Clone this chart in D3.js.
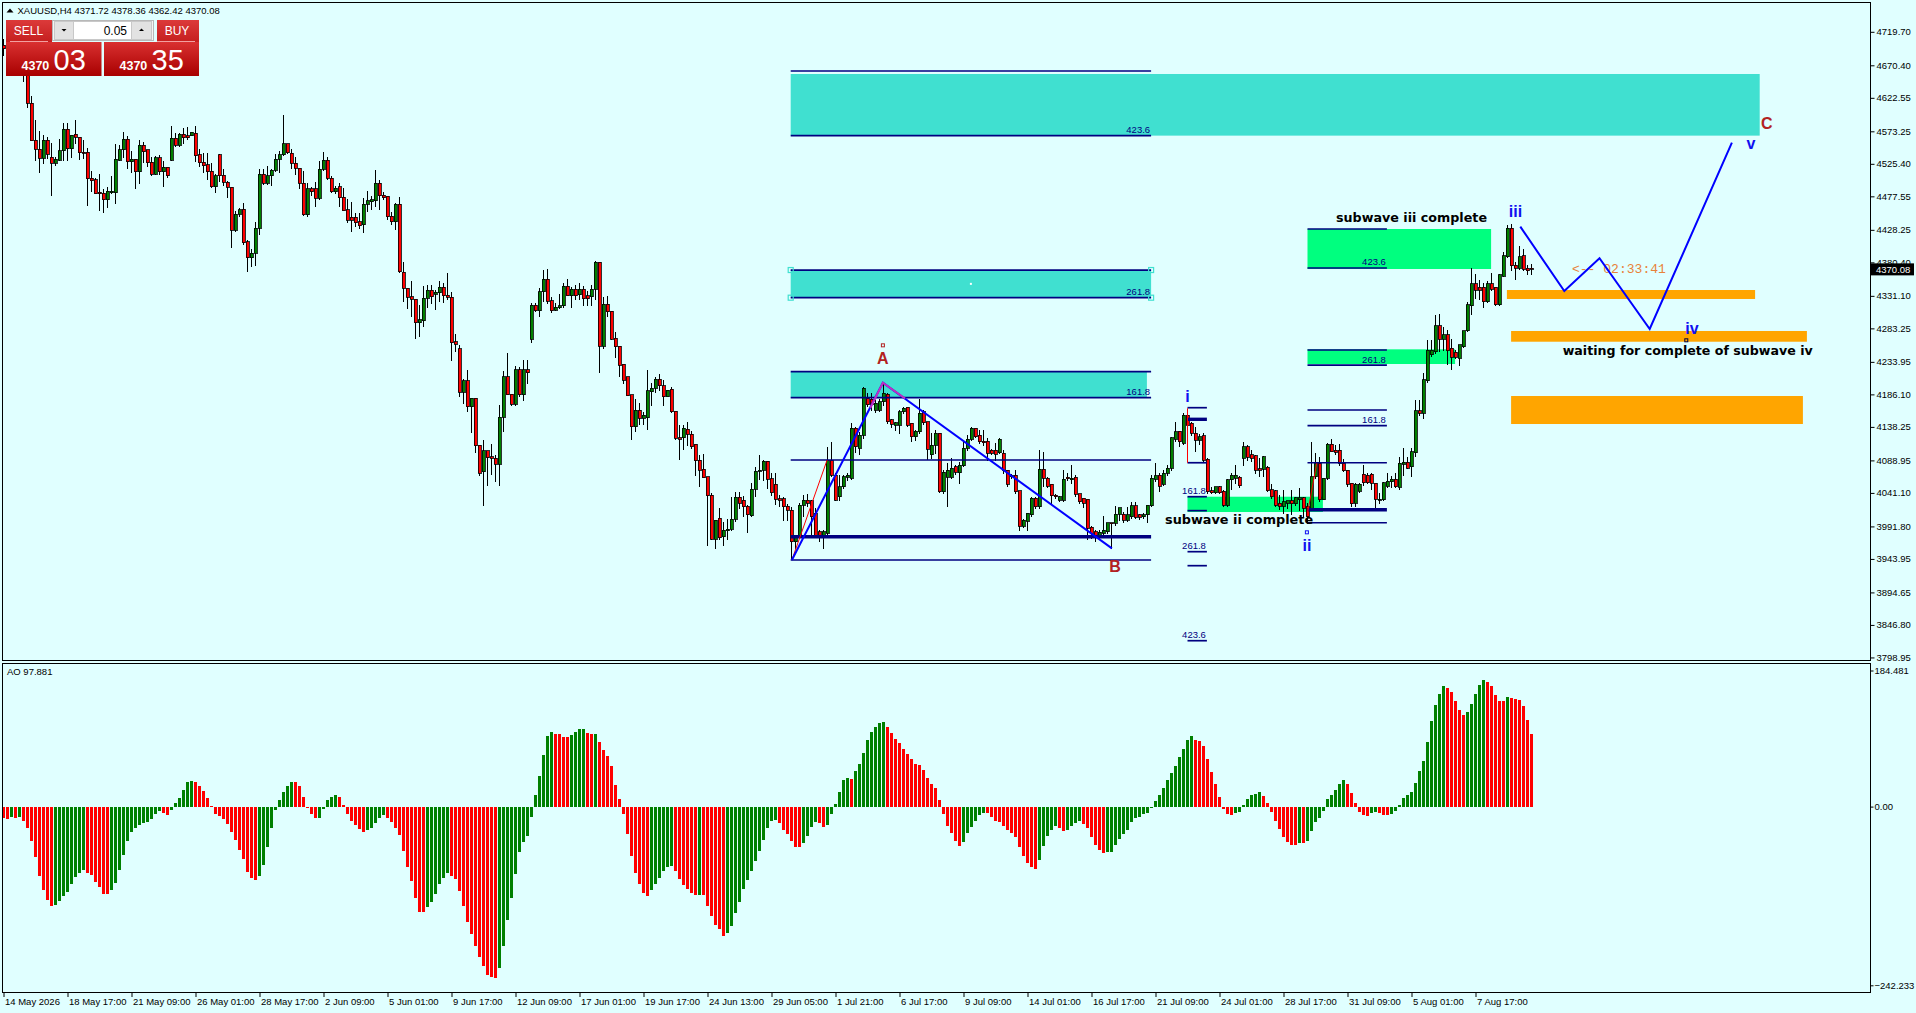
<!DOCTYPE html>
<html>
<head>
<meta charset="utf-8">
<script src="https://cdn.jsdelivr.net/npm/d3@7"></script>
<style>
  body { margin: 0; background: #E0FFFF; overflow: hidden; }
  text { font-family: "Liberation Sans", Arial, sans-serif; }
</style>
</head>
<body>
<svg id="chart" width="1916" height="1013"></svg>
<script>
// ---- data ----
const timeLabels = ['14 May 2026', '18 May 17:00', '21 May 09:00', '26 May 01:00', '28 May 17:00',
  '2 Jun 09:00', '5 Jun 01:00', '9 Jun 17:00', '12 Jun 09:00', '17 Jun 01:00', '19 Jun 17:00',
  '24 Jun 13:00', '29 Jun 05:00', '1 Jul 21:00', '6 Jul 17:00', '9 Jul 09:00', '14 Jul 01:00',
  '16 Jul 17:00', '21 Jul 09:00', '24 Jul 01:00', '28 Jul 17:00', '31 Jul 09:00', '5 Aug 01:00', '7 Aug 17:00']
const barsPerLabel = 16

const priceTicks = [4719.70, 4670.40, 4622.55, 4573.25, 4525.40, 4477.55, 4428.25, 4380.40, 4331.10,
  4283.25, 4233.95, 4186.10, 4138.25, 4088.95, 4041.10, 3991.80, 3943.95, 3894.65, 3846.80, 3798.95]
const aoTicks = [184.481, 0, -242.233]

// H4 candles: [open, high, low, close]
const candles = [
[4700,4709,4685,4695],[4695,4705,4684,4688],[4688,4700,4678,4692],[4692,4698,4676,4680],[4680,4690,4668,4672],
[4672,4685,4646,4660],[4660,4668,4608.5,4614.4],[4614.4,4625,4559.5,4559.5],[4560,4590,4531,4547],[4547,4574,4512,4533.5],
[4533.5,4568,4526,4560],[4560,4565.4,4533.5,4539.4],[4535,4555.6,4479.5,4526],[4526,4535,4522.7,4532],[4531,4561.5,4530,4544.3],
[4544.3,4585,4530,4576],[4576,4585,4531,4547.7],[4547.7,4567.3,4535,4567.3],[4568.8,4590,4554.6,4564.4],[4564.4,4564.4,4532,4541.8],
[4542.8,4560.5,4533.5,4541.8],[4542.8,4548,4464.8,4503.6],[4504,4515,4484.4,4500.6],[4501.6,4504.5,4481.5,4481.5],[4483.5,4510,4456,4481.5],
[4482,4488.4,4453.5,4472.7],[4472.7,4491.8,4461,4485],[4483,4507.5,4482,4485],[4483,4554.6,4466.8,4532],[4531,4552.6,4530,4545.8],
[4545.8,4572.2,4534.5,4561.5],[4561.5,4566.4,4517.8,4528.6],[4528.6,4544.3,4512.4,4532.5],[4532.5,4532.5,4488.9,4513.9],[4513.9,4560.5,4496.2,4553],
[4553,4557.5,4527,4543.3],[4545.8,4545.8,4521.2,4527],[4528,4535,4508,4510.4],[4510.4,4537,4510.4,4534],[4534,4538.4,4510,4513.9],
[4513.9,4529,4491.8,4520.2],[4520.2,4520.2,4505,4508],[4531,4581,4531,4563],[4563,4570.3,4551.6,4553],[4553,4571.3,4550.6,4568.8],
[4568.8,4577.6,4554.6,4563.9],[4566.4,4579,4561.5,4563.9],[4566.4,4572.2,4566.4,4572.2],[4570.3,4581,4528.6,4537.4],[4538.4,4547.2,4522.2,4527],
[4528,4540.8,4512.9,4522.7],[4523.7,4540.8,4501.6,4513.9],[4514.8,4526.6,4490.3,4491.8],[4491.8,4510.4,4483,4508],[4538.4,4539.9,4499.1,4507.5],
[4508.5,4517.8,4493.3,4498.2],[4498.2,4499.6,4476,4490.8],[4490.8,4490.8,4402,4427.5],[4427.5,4456,4425.5,4451],[4451,4461,4448.6,4457.5],
[4458.4,4467.3,4407.4,4409.4],[4410.4,4413.3,4366.7,4387.3],[4387.3,4400,4374,4393.7],[4393.7,4439.8,4375.5,4430.5],[4430.5,4517.3,4421.6,4510],
[4510,4517.8,4495.2,4496.7],[4496.7,4522.2,4495.2,4507.5],[4507.5,4517.3,4494.2,4516.3],[4516.3,4539.9,4514.4,4532.5],[4532.5,4544.3,4512.4,4538.4],
[4538.4,4597.3,4537,4554.6],[4554.6,4554.6,4540.8,4541.8],[4540.8,4547.2,4517.8,4526],[4526,4535,4510,4518.8],[4518.8,4518.8,4488.9,4496.7],
[4496.7,4514.8,4449.1,4450.6],[4450.6,4496.7,4447.6,4488.4],[4488.4,4491.8,4479,4484.4],[4488.4,4498.7,4463.3,4474.6],[4474.6,4530,4472.2,4517.3],
[4517.3,4542.3,4516.3,4531],[4531,4535,4503,4504],[4504,4507.5,4483,4484.4],[4484.4,4493.3,4482,4489.3],[4491.8,4496.7,4462.3,4475.6],
[4476,4489.8,4456.5,4456.5],[4457.5,4473.6,4438.8,4442.7],[4447,4468.7,4426.5,4442.7],[4447,4453.5,4433.9,4438.8],[4439.8,4452.5,4429.5,4434.4],
[4435.4,4475.6,4424,4465.8],[4465.8,4485.4,4455,4470.7],[4469.7,4478,4458.4,4472.2],[4471.2,4516.3,4463.3,4496.7],[4496.7,4501.6,4458.4,4478.5],
[4479.5,4484.4,4472.2,4475.6],[4478,4478,4444.2,4447.6],[4448.6,4455,4436.8,4440.3],[4440.3,4467.3,4429,4465.8],[4465.8,4477,4365,4366.7],
[4365.7,4380.4,4322.5,4342.2],[4342.2,4342.2,4312.7,4328.9],[4329.9,4353.4,4300.5,4326],[4326,4326,4268.1,4291.6],[4291.6,4317.6,4272,4295.6],
[4294.6,4346.1,4286.7,4327.4],[4327.4,4347,4314.2,4339.7],[4339.7,4347,4320.1,4329.9],[4333.3,4339.7,4311.7,4336.3],[4335.8,4352.5,4323.5,4343.6],
[4343.6,4350.5,4321.1,4330.9],[4331.9,4364.7,4325,4328.9],[4328.9,4336.3,4235.7,4262.2],[4263.2,4274.5,4248.9,4260.2],[4252.9,4258.8,4182.7,4189.1],
[4189.1,4208.2,4172.9,4205.8],[4205.8,4222,4160.6,4168],[4168,4180.3,4129.7,4180.3],[4180.3,4180.3,4100.8,4110.6],[4111.6,4111.6,4066.5,4069.9],
[4072.3,4118.9,4023.3,4102.8],[4102.8,4102.8,4051.7,4093],[4094.4,4113,4068.4,4092],[4092,4096.9,4057.6,4083.1],[4083.1,4170.5,4051.7,4152.3],
[4152.3,4220.5,4131.2,4212.2],[4212.2,4246.5,4185.2,4185.2],[4186.1,4186.1,4169.5,4171.9],[4171.9,4227.9,4169.5,4222],[4222,4226.9,4183.7,4185.2],
[4185.2,4236.7,4176.8,4222],[4222,4236.7,4201.4,4218],[4267.6,4321.1,4262.2,4317.6],[4317.6,4320.1,4307.8,4309.3],[4309.3,4342.2,4300.5,4337.3],
[4337.3,4369.2,4323.5,4355.4],[4355.4,4370.1,4320.1,4323.5],[4324,4328.9,4306.3,4309.3],[4309.8,4320.1,4309.3,4314.2],[4313.7,4333.8,4312.7,4316.2],
[4316.2,4349.5,4314.2,4345.6],[4345.6,4355.9,4331.4,4331.4],[4331.4,4344.6,4313.7,4340.7],[4340.7,4347,4326,4331.4],[4332.4,4349.5,4326,4340.7],
[4340.7,4345.6,4317.6,4326.5],[4330.9,4338.7,4317.6,4326.5],[4329.9,4347,4317.6,4340.7],[4340.7,4382.9,4326,4380.4],[4380.4,4380.4,4218,4257.3],
[4257.3,4329.9,4253.9,4319.1],[4319.1,4330.9,4300.5,4307.8],[4308.8,4308.8,4267.6,4267.6],[4268.6,4277.4,4240.6,4256.3],[4257.3,4257.3,4213.1,4229.3],
[4230.3,4230.3,4201.4,4207.2],[4212.2,4212.2,4184.2,4184.2],[4185.2,4185.2,4120.4,4138.5],[4138.5,4179.3,4132.2,4163.1],[4163.1,4172.9,4142,4150.8],
[4150.8,4160.6,4142,4155.7],[4151.8,4222,4135.1,4191.1],[4190.1,4202.3,4169.5,4195],[4195,4212.2,4188.6,4208.2],[4208.2,4215.6,4192.5,4198.9],
[4198.9,4207.2,4169.5,4182.7],[4182.7,4192.5,4182.7,4192.5],[4193.5,4197.4,4159.6,4160.6],[4161.6,4161.6,4120.4,4121.4],[4122.4,4141,4090.5,4120.4],
[4122.4,4141,4105.2,4136.1],[4134.6,4145,4111.6,4127.3],[4127.3,4132.2,4106.7,4109.1],[4113,4113,4067.4,4088.5],[4089.5,4096.9,4050.3,4074.8],
[4075.8,4098.3,4063.5,4063.5],[4065,4065,3963.4,4037],[4038,4040.4,3971.8,3972.7],[3972.7,4001.2,3959.5,4001.2],[4003.6,4019.4,3972.7,3975.2],
[3976.7,3998.7,3963.4,3986.5],[3985.5,4002.2,3971.8,3987.5],[3987.5,4034.5,3986.5,4002.2],[4002.2,4042.9,3998.7,4034.5],[4034.5,4042.9,4018.4,4025.7],
[4030.6,4037,4007.1,4020.8],[4021.8,4023.3,3982.6,4008.6],[4007.6,4055.2,4006.1,4046.3],[4046.3,4079.7,4035.5,4073.3],[4073.3,4096.9,4060.1,4074.8],
[4074.8,4089.5,4059,4088],[4088,4088,4047.8,4061.1],[4062,4069.9,4038,4041.4],[4053.7,4069.9,4024.2,4031.6],[4032.6,4037.5,4021.8,4030.6],
[4032.6,4035.5,4001.2,4020.8],[4021.8,4024.2,4001.2,4015.9],[4015.9,4020.8,3943,3969.3],[3969.3,3979.1,3960,3975.7],[3976.7,4026,3974,4023.3],
[4023.3,4038.0,4006.1,4030.6],[4030.6,4039.5,4020.8,4025.7],[4029.6,4030.6,3979.1,4006.1],[4011.0,4018.4,3976.7,3979.1],[3984.0,3986.5,3969.3,3979.1],
[3979.1,3986.5,3959.5,3984.0],[3981.6,4109.1,3979.1,4089.5],[4089.5,4116.5,4065.0,4067.4],[4067.4,4069.9,4030.6,4030.6],[4035.5,4067.4,4030.6,4050.3],
[4050.3,4067.4,4048.0,4065.0],[4064.0,4069.9,4060.0,4067.4],[4062.5,4143.5,4060.1,4136.1],[4136.1,4138.5,4101.0,4109.1],[4106.7,4131.2,4096.9,4126.3],
[4126.3,4197.4,4121.4,4195.0],[4180.3,4187.6,4168.0,4170.5],[4178.8,4187.6,4163.1,4170.5],[4163.1,4178.0,4160.0,4172.9],[4163.1,4180.0,4160.6,4175.4],
[4175.4,4203.3,4170.0,4187.6],[4186.6,4187.6,4143.5,4146.0],[4148.4,4150.0,4138.0,4142.5],[4141.0,4146.0,4133.0,4144.5],[4141.0,4163.1,4128.8,4160.6],
[4160.6,4168.0,4158.0,4165.5],[4167.0,4168.0,4138.5,4141.0],[4143.5,4143.5,4116.5,4123.9],[4123.9,4133.7,4118.9,4132.2],[4131.2,4178.8,4128.8,4158.2],
[4160.6,4163.0,4142.0,4144.5],[4146.0,4146.0,4090.5,4105.7],[4096.9,4128.8,4092.0,4111.6],[4111.6,4133.7,4099.3,4128.8],[4128.8,4128.8,4042.0,4042.9],
[4042.9,4074.8,4040.4,4071.4],[4064.0,4084.6,4020.8,4074.8],[4064.0,4091.9,4062.5,4077.2],[4079.7,4082.0,4068.0,4071.4],[4070.9,4087.0,4055.2,4082.1],
[4081.2,4118.9,4079.7,4106.7],[4106.7,4126.3,4104.2,4119.9],[4119.9,4137.6,4118.9,4136.1],[4136.1,4137.0,4122.0,4123.9],[4126.3,4133.7,4114.0,4116.5],
[4117.4,4133.7,4111.0,4115.0],[4117.4,4121.4,4089.5,4099.3],[4104.2,4106.0,4097.0,4099.3],[4104.2,4114.0,4089.5,4098.3],[4100.3,4122.4,4099.3,4120.4],
[4099.3,4104.2,4069.9,4074.8],[4074.8,4074.8,4051.2,4053.7],[4065.0,4069.0,4063.0,4067.4],[4067.4,4074.8,4040.4,4042.9],[4044.4,4044.4,3986.5,3992.4],
[3992.4,4003.0,3990.0,4001.2],[3999.7,4011.0,3986.5,4011.0],[4008.6,4034.5,4006.1,4033.1],[4033.1,4035.0,4018.0,4020.8],[4020.8,4104.2,4018.4,4075.8],
[4075.8,4101.8,4050.3,4062.5],[4062.5,4064.0,4049.0,4051.2],[4053.7,4053.7,4025.7,4037.0],[4038.0,4040.0,4033.0,4035.5],[4030.6,4037.0,4028.0,4035.5],
[4030.6,4074.8,4028.2,4061.1],[4064.0,4069.9,4060.0,4061.6],[4060.1,4081.7,4055.2,4062.5],[4064.0,4067.4,4035.5,4039.0],[4039.5,4039.5,4025.7,4028.2],
[4033.1,4034.0,4020.0,4025.7],[4031.6,4031.6,3971.8,3989.0],[3990.4,3992.0,3974.2,3981.6],[3984.0,3986.5,3969.3,3979.1],[3979.1,3986.5,3974.2,3983.0],
[3981.6,4007.1,3979.0,3986.5],[3984.0,3997.3,3981.6,3997.3],[3997.3,3997.3,3959.5,3996.3],[3996.3,4021.8,3993.8,4010.0],[4010.0,4019.4,4001.2,4019.4],
[4010.0,4013.0,3998.0,4001.2],[4001.2,4020.8,3998.7,4008.6],[4006.1,4028.2,4003.6,4022.3],[4022.3,4028.2,4003.6,4005.1],[4008.6,4010.0,4002.0,4005.1],
[4006.1,4011.0,4003.0,4008.6],[4008.6,4023.3,3997.3,4023.3],[4022.3,4067.4,4020.8,4062.5],[4061.1,4084.6,4057.6,4066.0],[4067.4,4069.9,4042.9,4051.2],
[4053.7,4075.0,4052.0,4069.9],[4069.9,4082.1,4066.0,4077.2],[4077.2,4123.9,4074.8,4122.4],[4120.4,4145.9,4116.5,4131.2],[4132.2,4132.2,4109.1,4116.5],
[4114.0,4158.0,4112.0,4155.7],[4155.7,4163.1,4133.7,4141.0],[4143.5,4146.0,4125.0,4128.8],[4128.8,4138.5,4101.8,4118.9],[4118.9,4128.0,4112.0,4123.9],
[4124.9,4128.8,4087.1,4089.5],[4090.5,4092.0,4040.5,4042.9],[4044.4,4049.3,4040.5,4041.4],[4041.4,4050.3,4039.5,4050.3],[4050.3,4051.2,4040.5,4041.4],
[4043.9,4045.4,4020.8,4023.3],[4023.3,4061.1,4021.8,4060.1],[4060.1,4069.9,4045.4,4067.4],[4062.5,4082.1,4055.2,4067.4],[4064.0,4066.0,4049.3,4051.8],
[4092.0,4116.5,4082.1,4109.1],[4109.1,4111.6,4089.5,4093.5],[4096.9,4104.2,4087.0,4092.0],[4095.9,4096.9,4069.9,4074.8],[4076.3,4092.0,4065.0,4074.8],
[4075.8,4095.4,4065.0,4094.4],[4078.7,4080.7,4042.9,4044.4],[4045.4,4054.2,4033.1,4035.5],[4044.4,4045.4,4020.8,4023.3],[4025.7,4038.0,4016.0,4021.8],
[4021.8,4045.4,4011.0,4028.2],[4025.7,4029.2,4018.4,4029.2],[4029.2,4045.4,4008.6,4024.8],[4024.8,4035.0,4023.3,4034.1],[4030.7,4047.8,4015.9,4034.1],
[4034.1,4035.5,4006.1,4018.4],[4021.8,4025.7,3996.3,4006.1],[4018.4,4116.5,4015.9,4065.0],[4065.0,4099.3,4063.0,4084.6],[4084.6,4094.4,4028.2,4030.7],
[4030.7,4063.0,4030.7,4062.5],[4062.5,4114.0,4061.1,4112.6],[4112.6,4120.4,4101.8,4101.8],[4104.2,4111.6,4096.9,4100.8],[4104.2,4112.6,4082.1,4084.6],
[4084.6,4090.5,4072.4,4073.8],[4074.8,4074.8,4050.3,4054.2],[4055.2,4056.2,4021.8,4024.8],[4025.7,4056.2,4021.8,4054.2],[4043.9,4056.2,4041.4,4054.2],
[4068.9,4082.1,4052.7,4056.2],[4067.4,4069.9,4055.2,4056.2],[4068.9,4069.9,4045.4,4055.2],[4055.2,4056.2,4018.4,4031.6],[4030.7,4040.5,4025.7,4032.1],
[4030.7,4057.6,4029.7,4056.2],[4051.2,4069.9,4049.3,4058.6],[4057.6,4065.9,4049.3,4061.1],[4061.1,4070.9,4049.3,4050.3],[4049.3,4094.4,4045.4,4084.6],
[4083.6,4107.7,4067.4,4086.1],[4086.1,4094.4,4077.2,4077.2],[4079.7,4106.7,4065.0,4101.8],[4100.3,4177.8,4094.4,4162.1],[4162.1,4177.8,4154.3,4158.2],
[4158.2,4217.1,4150.9,4207.3],[4206.3,4266.2,4203.3,4251.4],[4244.1,4266.2,4241.6,4251.4],[4249.0,4302.9,4246.5,4286.8],[4286.8,4304.4,4249.0,4267.1],
[4267.1,4285.8,4251.4,4273.5],[4273.5,4280.9,4230.3,4250.5],[4253.9,4267.1,4223.0,4240.6],[4248.0,4251.4,4239.0,4240.6],[4239.2,4258.8,4229.3,4258.8],
[4256.3,4280.0,4255.3,4279.4],[4279.4,4322.6,4278.4,4317.7],[4316.7,4371.6,4303.0,4348.6],[4348.6,4363.3,4327.5,4339.7],[4343.7,4354.5,4326.0,4339.7],
[4343.7,4349.5,4314.2,4322.6],[4322.6,4353.5,4321.1,4348.6],[4348.6,4365.2,4339.7,4340.7],[4343.7,4343.7,4316.2,4317.7],[4317.7,4363.3,4316.2,4361.8],
[4360.3,4396.2,4359.4,4389.8],[4388.8,4435.4,4387.8,4430.5],[4430.5,4436.9,4367.7,4375.1],[4376.5,4381.4,4355.4,4371.6],[4371.6,4404.5,4369.2,4388.8],
[4389.8,4399.6,4368.2,4370.2],[4371.6,4376.5,4362.2,4368.2],[4371.72,4378.36,4362.42,4370.08]
]

// Awesome Oscillator, one value per candle
const aoValues = [
-14.9,-16.7,-13.6,-14.9,-13.6,-19.0,-28.5,-46.1,-67.8,-93.5,
-113.0,-126.5,-134.2,-133.8,-127.4,-120.7,-115.2,-104.8,-94.9,-89.9,
-85.4,-89.9,-92.6,-101.7,-108.5,-118.4,-118.6,-112.5,-103.0,-85.4,
-65.1,-46.1,-33.9,-28.5,-25.3,-22.6,-20.3,-16.3,-9.9,-5.9,
-8.1,-11.3,-4.1,5.0,12.2,22.6,33.9,35.2,33.4,28.5,
21.2,12.2,0.5,-9.9,-12.2,-16.7,-23.0,-33.9,-44.7,-58.7,
-70.9,-88.6,-96.3,-99.4,-94.0,-79.1,-54.7,-28.9,-4.1,9.0,
20.3,28.0,33.4,33.2,28.0,13.1,-1.4,-9.9,-15.4,-15.2,
-2.7,9.0,13.1,16.3,13.1,2.3,-9.9,-19.4,-24.9,-29.8,
-33.9,-31.6,-28.5,-21.7,-14.9,-11.3,-14.9,-20.3,-28.9,-38.0,
-59.7,-81.3,-100.8,-124.3,-142.3,-142.5,-135.6,-128.8,-117.9,-104.4,
-96.3,-89.9,-93.5,-98.5,-113.9,-134.2,-155.9,-173.1,-188.4,-203.4,
-216.0,-227.8,-230.5,-232.7,-218.3,-188.4,-153.2,-124.3,-90.8,-61.9,
-48.4,-39.3,-13.6,15.8,41.6,70.0,95.8,101.2,98.5,98.3,
94.9,94.7,97.2,101.7,105.3,105.5,99.9,98.5,98.7,87.7,
76.8,68.2,55.6,29.4,10.4,-9.5,-36.6,-66.9,-89.9,-104.8,
-117.1,-120.7,-113.0,-104.8,-96.3,-87.2,-81.3,-80.9,-87.2,-97.6,
-105.7,-111.2,-117.1,-119.8,-119.6,-119.9,-134.2,-148.2,-160.4,-165.9,
-174.9,-170.8,-161.3,-143.7,-128.8,-111.2,-99.4,-86.8,-73.2,-59.7,
-44.7,-28.5,-19.0,-18.1,-22.6,-31.6,-36.6,-46.1,-54.7,-54.9,
-49.3,-39.8,-27.6,-20.8,-22.1,-27.6,-24.9,-9.9,3.2,19.9,
35.7,38.4,37.5,48.4,57.8,72.8,90.4,101.2,108.0,113.4,
114.8,108.0,99.9,91.7,86.3,78.2,71.4,64.6,57.8,56.5,
49.7,38.9,30.7,25.3,9.0,-9.9,-26.2,-35.7,-46.5,-53.3,
-47.9,-35.7,-27.6,-19.4,-11.3,-8.6,-8.8,-14.0,-19.4,-20.8,
-26.2,-31.6,-35.7,-41.1,-54.7,-66.9,-76.4,-81.8,-84.5,-72.3,
-53.3,-39.8,-31.6,-26.2,-28.9,-33.0,-31.6,-26.2,-22.1,-19.4,
-23.5,-28.9,-41.1,-52.0,-58.7,-62.8,-61.5,-61.3,-52.0,-43.8,
-37.1,-31.6,-20.8,-15.4,-14.0,-9.9,-8.1,-1.4,7.7,15.8,
25.3,36.2,45.6,55.1,67.3,78.2,90.4,95.8,90.4,89.0,
82.2,64.6,47.0,30.7,13.1,-3.2,-9.9,-11.3,-8.1,-7.9,
2.3,10.4,15.8,17.2,19.9,14.5,5.0,-7.2,-19.4,-29.8,
-41.1,-47.9,-52.0,-52.2,-49.3,-49.5,-46.5,-33.0,-20.8,-15.4,
-5.9,10.4,15.8,22.6,30.7,36.2,30.7,18.5,5.0,-7.2,
-11.3,-12.7,-8.6,-7.2,-8.6,-11.3,-11.5,-9.9,-5.9,2.3,
11.7,15.8,19.9,32.1,48.4,61.9,87.7,116.1,137.8,152.7,
163.6,160.9,155.5,143.3,131.1,124.3,128.3,139.2,152.7,164.9,
171.7,169.0,163.6,151.4,143.3,143.1,148.7,147.3,146.4,144.6,
136.5,117.5,97.881
]

// drawn objects, in bar index / price units: [fromBar, toBar, topPrice, bottomPrice]
const cyanZones = [[196.8, 439.05, 4657.6, 4566.9], [196.8, 286.9, 4369.1, 4328.4], [196.8, 285.85, 4219.5, 4181.2]]
const greenZones = [[326, 371.9, 4429.5, 4370.6], [326, 362.9, 4252.4, 4230.8], [296, 329.85, 4035.5, 4013.0]]
const orangeZones = [[375.85, 437.9, 4339.7, 4326.5], [376.9, 450.85, 4279.4, 4263.6], [376.9, 449.85, 4183.7, 4142.5]]

// fibo expansion levels: [price, label, base]
const fibA = {from: 196.8, to: 286.9, levels: [[4662.0, ''], [4566.9, '423.6'], [4369.1, ''], [4328.4, '261.8'],
  [4219.5, ''], [4181.2, '161.8'], [4089.5, ''], [3976.6, '', 1], [3942.4, '']]}
const fibB = {from: 296, to: 300.85, levels: [[4166.5, ''], [4149.4, '', 1], [4085.5, ''], [4035.5, '161.8'],
  [4015.0, ''], [3954.6, '261.8'], [3934.0, ''], [3823.6, '423.6']]}
const fibC = {from: 326, to: 345.85, levels: [[4429.5, ''], [4372.1, '423.6'], [4251.4, ''], [4229.3, '261.8'],
  [4163.1, ''], [4140.0, '161.8'], [4085.5, ''], [4016.4, '', 1], [3997.2, '']]}

const abcPoints = [[197.1, 3942.4], [219.85, 4203.3], [277.1, 3959.5]]
const abcHighlight = [[216.7, 4166], [219.85, 4203.3], [225.4, 4180]]
const projection = [[379.2, 4432.9], [390.2, 4338.2], [399, 4386.4], [411.55, 4282.3], [432.1, 4556.5]]
const fibBaselines = [[[197.1, 3942.4], [205.9, 4089.5]], [[296, 4165.6], [296, 4085.5]], [[326, 4011.0], [328.3, 4084.7]]]

const waveLabels = [['A', 219.85, 4239.6, 'abc'], ['B', 277.9, 3932.5, 'abc'], ['C', 440.85, 4585.0, 'abc'],
  ['i', 296, 4182.7, 'sub'], ['ii', 325.85, 3964.4, 'sub'], ['iii', 378, 4454.9, 'sub'],
  ['iv', 422.1, 4283.3, 'sub'], ['v', 436.85, 4554.6, 'sub']]
const markers = [[219.85, 4258.3, 'abc'], [325.85, 3983.1, 'sub'], [420.7, 4265.7, 'dark']]
const notes = [['subwave iii complete', 352, 4446.7, 151], ['subwave ii complete', 308.9, 4002.3, 148],
  ['waiting for complete of subwave iv', 421.05, 4250.4, 250]]
const countdown = '<-- 02:33:41'
const symbolInfo = 'XAUUSD,H4  4371.72 4378.36 4362.42 4370.08'
const aoName = 'AO 97.881'

// ---- layout ----
const W = 1916, H = 1013
const plotRight = 1870
const mainTop = 2, mainBottom = 661, aoTop = 664, aoBottom = 993

let svg = d3.select('#chart')
let xScale = d3.scaleLinear().domain([0, 100]).range([3.5, 403.5])
let yPrice = d3.scaleLinear().domain([3798.95, 4719.70]).range([657.45, 31.8])
let yAO = d3.scaleLinear().domain([-242.233, 184.481]).range([985.3, 670.5])

svg.append('rect').attr('width', W).attr('height', H).attr('fill', '#E0FFFF')

let defs = svg.append('defs')
defs.append('clipPath').attr('id', 'clipMain').append('rect')
  .attr('x', mainTop).attr('y', mainTop).attr('width', plotRight - mainTop).attr('height', mainBottom - mainTop)
defs.append('clipPath').attr('id', 'clipAO').append('rect')
  .attr('x', 2).attr('y', aoTop).attr('width', plotRight - 2).attr('height', aoBottom - aoTop)

function grad(id, c1, c2) {
  let g = defs.append('linearGradient').attr('id', id).attr('x1', 0).attr('y1', 0).attr('x2', 0).attr('y2', 1)
  g.append('stop').attr('offset', '0%').attr('stop-color', c1)
  g.append('stop').attr('offset', '100%').attr('stop-color', c2)
}
grad('btnRed', '#DC3A3A', '#C51F1F')
grad('priceRed', '#D93030', '#A80000')

let main = svg.append('g').attr('clip-path', 'url(#clipMain)')

// zones behind the candles
function zones(data, color) {
  main.append('g').selectAll('rect').data(data).join('rect')
    .attr('x', d => xScale(d[0]))
    .attr('width', d => xScale(d[1]) - xScale(d[0]))
    .attr('y', d => yPrice(d[2]))
    .attr('height', d => yPrice(d[3]) - yPrice(d[2]))
    .attr('fill', color)
}
zones(cyanZones, '#40E0D0')
zones(greenZones, '#00FF7F')
zones(orangeZones, '#FFA500')

// candles
let cg = main.append('g').attr('shape-rendering', 'crispEdges')
cg.selectAll('line').data(candles).join('line')
  .attr('x1', (d, i) => xScale(i)).attr('x2', (d, i) => xScale(i))
  .attr('y1', d => yPrice(d[1])).attr('y2', d => yPrice(d[2]) + 0.5)
  .attr('stroke', '#000').attr('stroke-width', 1)
cg.selectAll('rect').data(candles).join('rect')
  .attr('x', (d, i) => xScale(i) - 1.5).attr('width', 3)
  .attr('y', d => yPrice(Math.max(d[0], d[3])))
  .attr('height', d => Math.max(1, Math.abs(yPrice(d[0]) - yPrice(d[3]))))
  .attr('fill', d => d[3] >= d[0] ? '#008000' : '#FF0000')
  .attr('stroke', '#000').attr('stroke-width', 0.8)

// fibo levels
function fibo(set) {
  let g = main.append('g')
  g.selectAll('line').data(set.levels).join('line')
    .attr('x1', xScale(set.from)).attr('x2', xScale(set.to))
    .attr('y1', d => yPrice(d[0])).attr('y2', d => yPrice(d[0]))
    .attr('stroke', '#000080').attr('stroke-width', d => d[2] ? 3.4 : 1.7)
  g.selectAll('text').data(set.levels.filter(d => d[1])).join('text')
    .attr('x', xScale(set.to) - 1).attr('y', d => yPrice(d[0]) - 2.5)
    .attr('text-anchor', 'end').attr('fill', '#000080').style('font-size', '9.5px')
    .text(d => d[1])
}
fibo(fibA)
fibo(fibB)
fibo(fibC)

let line = d3.line().x(d => xScale(d[0])).y(d => yPrice(d[1]))
main.append('g').selectAll('path').data(fibBaselines).join('path')
  .attr('d', line).attr('fill', 'none').attr('stroke', '#FF0000').attr('stroke-width', 1)

// selection handles on the 261.8 box
let box = cyanZones[1]
let corners = [[box[0], box[2]], [box[0], box[3]], [box[1], box[2]], [box[1], box[3]]]
main.append('g').selectAll('rect').data(corners).join('rect')
  .attr('x', d => xScale(d[0]) - 2.5).attr('y', d => yPrice(d[1]) - 2.5)
  .attr('width', 5).attr('height', 5)
  .attr('fill', 'none').attr('stroke', '#40E0D0').attr('stroke-width', 1.2)
main.append('rect')
  .attr('x', xScale((box[0] + box[1]) / 2) - 1).attr('y', yPrice((box[2] + box[3]) / 2) - 1)
  .attr('width', 2).attr('height', 2).attr('fill', '#FFFFFF')

// countdown sits under the projection line
main.append('text')
  .attr('x', xScale(392.1)).attr('y', yPrice(candles[candles.length - 1][3]))
  .attr('dominant-baseline', 'central')
  .attr('textLength', 94).attr('lengthAdjust', 'spacingAndGlyphs')
  .style('font-family', '"Liberation Mono", "DejaVu Sans Mono", monospace').style('font-size', '13px')
  .attr('fill', '#E8823A')
  .text(countdown)

// wave lines
main.append('path').attr('d', line(abcPoints)).attr('fill', 'none')
  .attr('stroke', '#0000FF').attr('stroke-width', 2)
main.append('path').attr('d', line(abcHighlight)).attr('fill', 'none')
  .attr('stroke', '#C030C0').attr('stroke-width', 2)
main.append('path').attr('d', line(projection)).attr('fill', 'none')
  .attr('stroke', '#0000FF').attr('stroke-width', 2)

let labelColor = {abc: '#B22222', sub: '#1010F0', dark: '#000040'}
main.append('g').selectAll('text').data(waveLabels).join('text')
  .attr('x', d => xScale(d[1])).attr('y', d => yPrice(d[2]))
  .attr('text-anchor', 'middle').attr('dominant-baseline', 'central')
  .attr('fill', d => labelColor[d[3]])
  .style('font-size', '16px').style('font-weight', 'bold')
  .text(d => d[0])
main.append('g').selectAll('rect').data(markers).join('rect')
  .attr('x', d => xScale(d[0]) - 1.5).attr('y', d => yPrice(d[1]) - 1.5)
  .attr('width', 3).attr('height', 3)
  .attr('fill', 'none').attr('stroke', d => labelColor[d[2]]).attr('stroke-width', 1)

main.append('g').selectAll('text').data(notes).join('text')
  .attr('x', d => xScale(d[1]) - d[3] / 2).attr('y', d => yPrice(d[2]))
  .attr('dominant-baseline', 'central')
  .attr('textLength', d => d[3]).attr('lengthAdjust', 'spacingAndGlyphs')
  .style('font-family', '"DejaVu Sans", sans-serif').style('font-weight', 'bold').style('font-size', '13px')
  .attr('fill', '#000')
  .text(d => d[0])

// AO histogram
let ao = svg.append('g').attr('clip-path', 'url(#clipAO)').attr('shape-rendering', 'crispEdges')
ao.selectAll('rect').data(aoValues).join('rect')
  .attr('x', (d, i) => xScale(i) - 1.5).attr('width', 3)
  .attr('y', d => Math.min(yAO(0), yAO(d)))
  .attr('height', d => Math.max(1, Math.abs(yAO(d) - yAO(0))))
  .attr('fill', (d, i) => i > 0 && d > aoValues[i - 1] ? '#008000' : '#FF0000')

// frames
let frame = svg.append('g').attr('fill', 'none').attr('stroke', '#000').attr('stroke-width', 1)
  .attr('shape-rendering', 'crispEdges')
frame.append('rect').attr('x', 2.5).attr('y', 2.5).attr('width', plotRight - 2).attr('height', mainBottom - 3)
frame.append('rect').attr('x', 2.5).attr('y', aoTop - 0.5).attr('width', plotRight - 2).attr('height', aoBottom - aoTop)

// price axis
let yAxis = d3.axisRight(yPrice).tickValues(priceTicks).tickSize(4).tickPadding(2)
  .tickFormat(d3.format('.2f'))
let ya = svg.append('g').attr('transform', `translate(${plotRight + 0.5},0)`).call(yAxis)
ya.select('.domain').remove()
ya.selectAll('text').style('font-size', '9.5px').style('font-family', '"Liberation Sans", Arial, sans-serif')

let aoAxis = d3.axisRight(yAO).tickValues(aoTicks).tickSize(3).tickPadding(1)
  .tickFormat(d => d === 0 ? '0.00' : d3.format('.3f')(d))
let aa = svg.append('g').attr('transform', `translate(${plotRight + 0.5},0)`).call(aoAxis)
aa.select('.domain').remove()
aa.selectAll('text').style('font-size', '9.5px').style('font-family', '"Liberation Sans", Arial, sans-serif')

// current price tag
let lastClose = candles[candles.length - 1][3]
svg.append('rect').attr('x', plotRight + 1).attr('y', yPrice(lastClose) - 6)
  .attr('width', W - plotRight - 3).attr('height', 12).attr('fill', '#000')
svg.append('text').attr('x', plotRight + 6).attr('y', yPrice(lastClose))
  .attr('dominant-baseline', 'central').attr('fill', '#FFF').style('font-size', '9.5px')
  .text(d3.format('.2f')(lastClose))

// time axis
let xAxis = d3.axisBottom(xScale).tickValues(timeLabels.map((d, i) => i * barsPerLabel))
  .tickFormat((d, i) => timeLabels[i]).tickSize(4).tickPadding(1)
let xa = svg.append('g').attr('transform', `translate(0,${aoBottom})`).call(xAxis)
xa.select('.domain').remove()
xa.selectAll('text').attr('text-anchor', 'start').attr('x', 1)
  .style('font-size', '9.5px').style('font-family', '"Liberation Sans", Arial, sans-serif')

// chart header and indicator name
svg.append('path').attr('d', 'M6.5,12.5 L10,8.5 L13.5,12.5 Z').attr('fill', '#000')
svg.append('text').attr('x', 17.5).attr('y', 14).style('font-size', '9.5px').attr('fill', '#000').text(symbolInfo)
svg.append('text').attr('x', 7).attr('y', 675).style('font-size', '9.5px').attr('fill', '#000').text(aoName)

// one-click trading panel
let panel = svg.append('g')
panel.append('rect').attr('x', 6).attr('y', 20).attr('width', 46).attr('height', 22).attr('fill', 'url(#btnRed)')
panel.append('rect').attr('x', 157).attr('y', 20).attr('width', 42).attr('height', 22).attr('fill', 'url(#btnRed)')
panel.append('rect').attr('x', 6).attr('y', 42).attr('width', 95.5).attr('height', 34).attr('fill', 'url(#priceRed)')
panel.append('rect').attr('x', 104).attr('y', 42).attr('width', 95).attr('height', 34).attr('fill', 'url(#priceRed)')
panel.append('line').attr('x1', 10).attr('x2', 48).attr('y1', 41.5).attr('y2', 41.5).attr('stroke', '#F2A0A0')
panel.append('line').attr('x1', 157).attr('x2', 195).attr('y1', 41.5).attr('y2', 41.5).attr('stroke', '#F2A0A0')
panel.append('rect').attr('x', 52.5).attr('y', 20.5).attr('width', 101).attr('height', 20)
  .attr('fill', '#F4F4F4').attr('stroke', '#B8B8B8')
panel.append('rect').attr('x', 54.5).attr('y', 21.5).attr('width', 19).attr('height', 18)
  .attr('fill', '#E2E2E2').attr('stroke', '#C8C8C8')
panel.append('rect').attr('x', 73.5).attr('y', 21.5).attr('width', 58).attr('height', 18)
  .attr('fill', '#FFFFFF').attr('stroke', '#C8C8C8')
panel.append('rect').attr('x', 131.5).attr('y', 21.5).attr('width', 20).attr('height', 18)
  .attr('fill', '#E2E2E2').attr('stroke', '#C8C8C8')
panel.append('path').attr('d', 'M61.5,29 L66.5,29 L64,31.5 Z').attr('fill', '#000')
panel.append('path').attr('d', 'M139,31 L144,31 L141.5,28.5 Z').attr('fill', '#000')
panel.append('text').attr('x', 127).attr('y', 34.5).attr('text-anchor', 'end')
  .style('font-size', '12px').attr('fill', '#000').text('0.05')
panel.append('text').attr('x', 28.5).attr('y', 35).attr('text-anchor', 'middle')
  .style('font-size', '12px').attr('fill', '#FFF').text('SELL')
panel.append('text').attr('x', 177).attr('y', 35).attr('text-anchor', 'middle')
  .style('font-size', '12px').attr('fill', '#FFF').text('BUY')
panel.append('text').attr('x', 21.5).attr('y', 69.5).style('font-size', '12.5px').style('font-weight', 'bold')
  .attr('fill', '#FFF').text('4370')
panel.append('text').attr('x', 53.5).attr('y', 69.5).style('font-size', '29px')
  .attr('fill', '#FFF').text('03')
panel.append('text').attr('x', 119.5).attr('y', 69.5).style('font-size', '12.5px').style('font-weight', 'bold')
  .attr('fill', '#FFF').text('4370')
panel.append('text').attr('x', 151.5).attr('y', 69.5).style('font-size', '29px')
  .attr('fill', '#FFF').text('35')
</script>
</body>
</html>
